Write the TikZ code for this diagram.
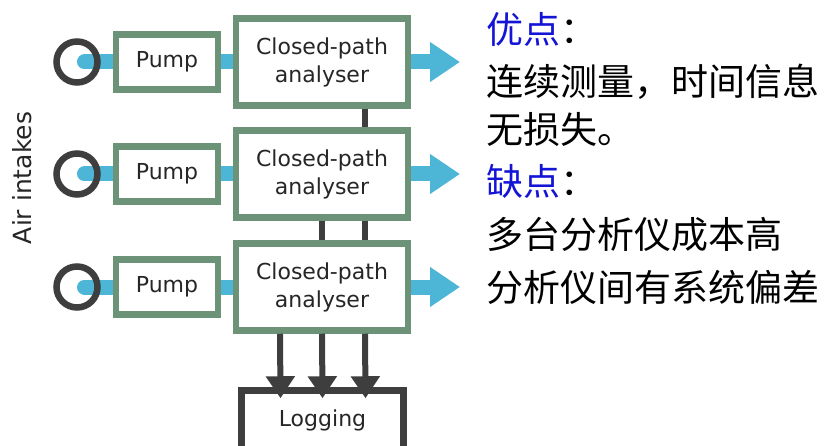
\documentclass[tikz,border=0pt]{standalone}
\usepackage{fontspec}
\setmainfont{DejaVu Sans}
\newfontfamily\cjkfont{Noto Sans CJK SC}
\usetikzlibrary{arrows.meta,backgrounds}

\definecolor{boxgreen}{RGB}{108,146,120}
\definecolor{pipeblue}{RGB}{77,182,214}
\definecolor{wiregray}{RGB}{62,62,62}
\definecolor{headblue}{RGB}{20,20,215}

\begin{document}
\begin{tikzpicture}[x=1pt,y=-1pt,
		unit/.style={draw=boxgreen,line width=6.5pt,fill=white,inner sep=0pt,text=black!85,
			font=\fontsize{22}{28}\selectfont,align=center},
		pump/.style={unit,minimum width=102pt,minimum height=55pt},
		analyser/.style={unit,minimum width=172pt,minimum height=87pt},
		intake/.style={circle,draw=wiregray,line width=6.5pt,minimum size=41pt,inner sep=0pt},
		pipe/.style={pipeblue,line width=15pt},
		wire/.style={wiregray,line width=6pt},
		note/.style={anchor=base west,inner sep=0pt,font=\cjkfont\fontsize{37}{37}\selectfont}]
	\useasboundingbox (0,0) rectangle (826,446);
	\clip (0,0) rectangle (826,446);
	% three sampling lines
	\foreach \r/\y in {1/62,2/174,3/287}{
		\node[intake] (in\r) at (77,\y) {};
		\node[pump] (pump\r) at (167,\y) {Pump};
		\node[analyser] (ana\r) at (322,\y) {Closed-path\\analyser};
		\coordinate (out\r) at (460,\y);
	}
	\begin{scope}[on background layer]
		\foreach \r in {1,2,3}{
			\draw[pipe,line cap=round] ([xshift=7.5pt]in\r.center) -- (pump\r.west);
			\draw[pipe] (pump\r.east) -- (ana\r.west);
		}
	\end{scope}
	\foreach \r in {1,2,3}
		\draw[pipe,-{Triangle[width=38pt,length=30pt]}] (ana\r.east) -- (out\r);
	\node[draw=wiregray,line width=6.5pt,fill=white,minimum width=162pt,minimum height=60pt,
		text=black!85,font=\fontsize{22}{28}\selectfont] (log) at (322.5,420.5) {Logging};
	% data lines down to the logger
	\draw[wire] ([xshift=43pt]ana1.south) -- ([xshift=43pt]ana2.north);
	\foreach \dx in {0,43}
		\draw[wire] ([xshift=\dx pt]ana2.south) -- ([xshift=\dx pt]ana3.north);
	\foreach \dx in {-42,0,43}
		\draw[wire,-{Triangle[width=28pt,length=22pt]}] ([xshift=\dx pt]ana3.south) -- ([xshift=\dx pt,yshift=-11pt]log.north);
	\node[rotate=90,text=black!85,font=\fontsize{25}{25}\selectfont] (air) at (22,178) {Air intakes};
	% pros and cons
	\node[note,text=headblue] (pros) at (486,44) {优点\textcolor{black}{：}};
	\node[note] (prosA) at (486,96) {连续测量，时间信息};
	\node[note] (prosB) at (486,144) {无损失。};
	\node[note,text=headblue] (cons) at (486,196) {缺点\textcolor{black}{：}};
	\node[note] (consA) at (486,248) {多台分析仪成本高};
	\node[note] (consB) at (486,301) {分析仪间有系统偏差};
\end{tikzpicture}
\end{document}
